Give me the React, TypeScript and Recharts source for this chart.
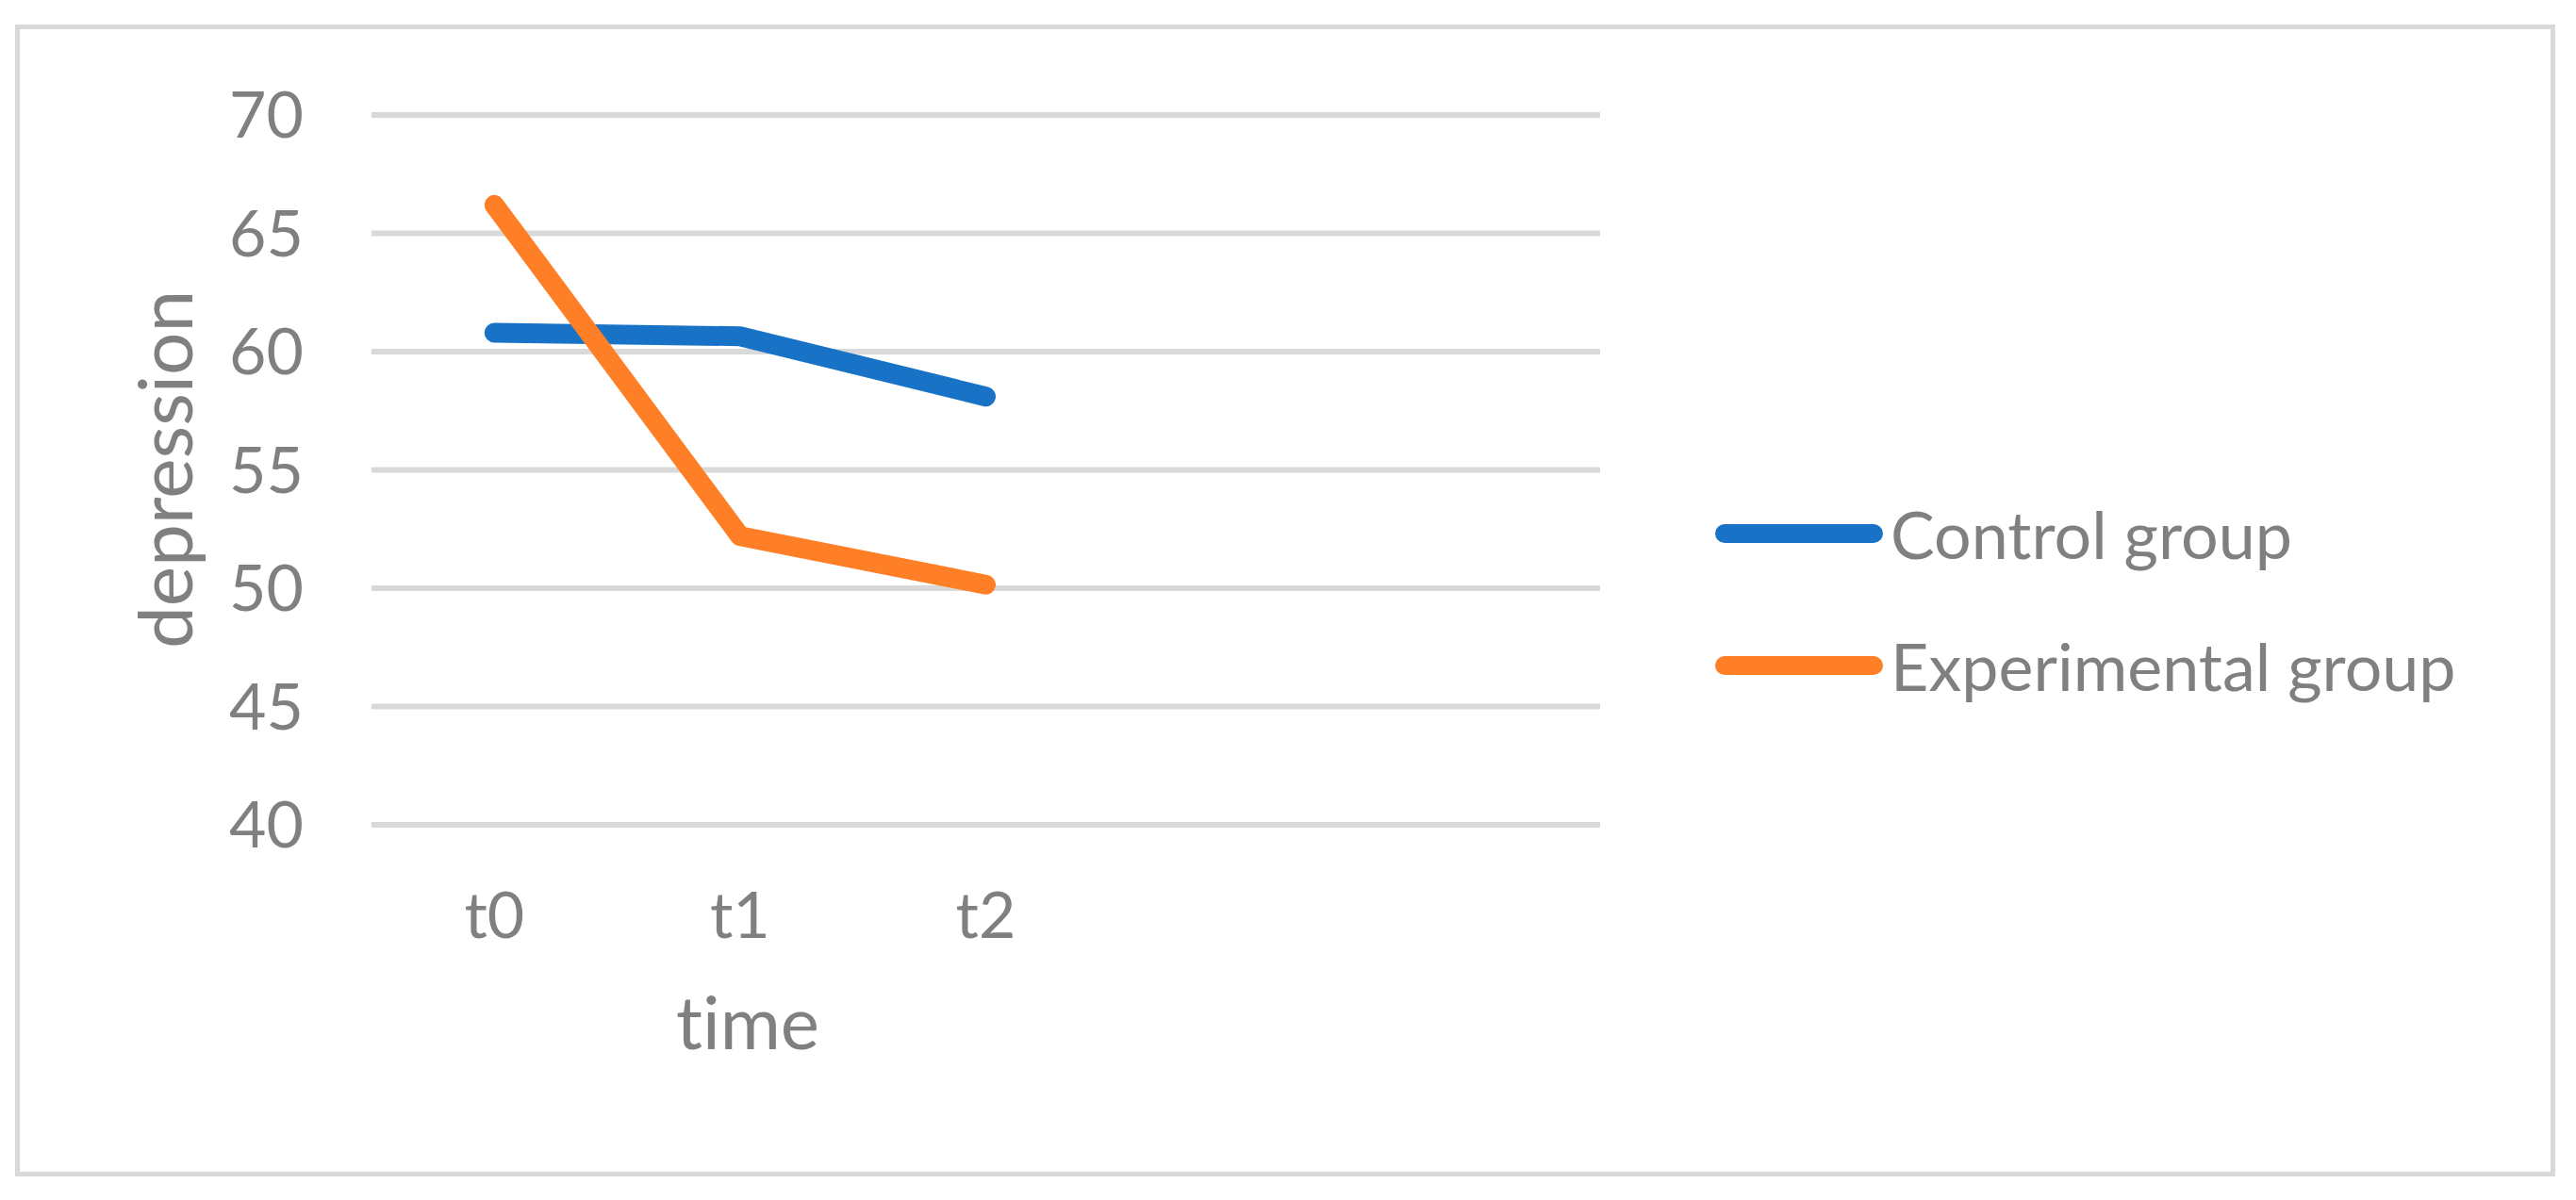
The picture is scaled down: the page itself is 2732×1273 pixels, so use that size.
import {
  CartesianGrid,
  Label,
  Legend,
  Line,
  LineChart,
  XAxis,
  YAxis,
} from "recharts";

const times = ["t0", "t1", "t2", "", ""];
const controlGroup = [60.8, 60.65, 58.1];
const experimentalGroup = [66.2, 52.2, 50.15];
const depressionTicks = [40, 45, 50, 55, 60, 65, 70];

const seriesNames = { control: "Control group", experimental: "Experimental group" };

const BLUE = "#1873c7";
const ORANGE = "#fe7f26";
const TEXT = "#808080";
const GRID = "#d9d9d9";

const data = times.map((time, i) => ({
  time,
  control: controlGroup[i],
  experimental: experimentalGroup[i],
}));

// half a category band on each side, like Excel's "between tick marks"
const bandPad = 1303 / times.length / 2;

function LegendRows({ payload }: { payload?: any[] }) {
  return (
    <div>
      {(payload ?? []).map((entry) => (
        <div
          key={entry.value}
          style={{ display: "flex", alignItems: "center", height: 140 }}
        >
          <div
            style={{
              width: 178,
              height: 20,
              borderRadius: 10,
              background: entry.color,
            }}
          />
          <span
            style={{
              marginLeft: 8,
              fontSize: 70,
              lineHeight: 1,
              color: TEXT,
              whiteSpace: "nowrap",
            }}
          >
            {entry.value}
          </span>
        </div>
      ))}
    </div>
  );
}

export default function App() {
  return (
    <div
      style={{
        position: "fixed",
        left: 0,
        top: 0,
        width: 2732,
        height: 1273,
        background: "#fff",
        fontFamily: "Lato, sans-serif",
        fontVariantLigatures: "none",
      }}
    >
      <div
        style={{
          position: "absolute",
          left: 16,
          top: 26,
          width: 2694,
          height: 1222,
          boxSizing: "border-box",
          border: `5px solid ${GRID}`,
        }}
      />
      <div style={{ position: "absolute", left: 0, top: 0 }}>
        <LineChart
          width={2732}
          height={1273}
          data={data}
          margin={{ top: 122, right: 1035, bottom: 248, left: 194 }}
        >
          <CartesianGrid vertical={false} stroke={GRID} strokeWidth={6} />
          <XAxis
            dataKey="time"
            height={150}
            interval={0}
            padding={{ left: bandPad, right: bandPad }}
            axisLine={false}
            tickLine={false}
            tickSize={0}
            tickMargin={72}
            tick={{ fill: TEXT, fontSize: 68 }}
          >
            <Label
              content={() => (
                <text x={793} y={1113} textAnchor="middle" fill={TEXT} fontSize={78}>
                  time
                </text>
              )}
            />
          </XAxis>
          <YAxis
            width={200}
            domain={[40, 70]}
            ticks={depressionTicks}
            axisLine={false}
            tickLine={false}
            tickSize={0}
            tickMargin={72}
            tick={{ fill: TEXT, fontSize: 68 }}
          >
            <Label
              content={() => (
                <text
                  transform="translate(204, 498) rotate(-90)"
                  textAnchor="middle"
                  fill={TEXT}
                  fontSize={80}
                >
                  depression
                </text>
              )}
            />
          </YAxis>
          <Legend
            layout="horizontal"
            align="center"
            verticalAlign="middle"
            wrapperStyle={{ left: 1819, top: 496, width: 900 }}
            content={(props: any) => <LegendRows payload={props.payload} />}
          />
          <Line
            type="linear"
            dataKey="control"
            name={seriesNames.control}
            stroke={BLUE}
            strokeWidth={21}
            strokeLinecap="round"
            strokeLinejoin="round"
            dot={false}
            activeDot={false}
            isAnimationActive={false}
          />
          <Line
            type="linear"
            dataKey="experimental"
            name={seriesNames.experimental}
            stroke={ORANGE}
            strokeWidth={21}
            strokeLinecap="round"
            strokeLinejoin="round"
            dot={false}
            activeDot={false}
            isAnimationActive={false}
          />
        </LineChart>
      </div>
    </div>
  );
}
